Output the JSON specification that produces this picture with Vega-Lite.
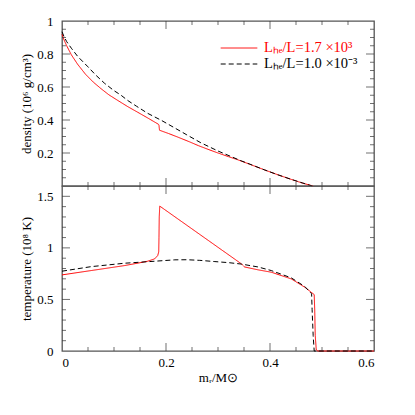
{
  "$schema": "https://vega.github.io/schema/vega-lite/v6.json",
  "autosize": {"type": "pad"},
  "padding": {"left": 19, "top": 14, "right": 5, "bottom": 5},
  "config": {
    "font": "Liberation Serif",
    "view": {"stroke": "#555555", "strokeWidth": 1.3},
    "concat": {"spacing": 0},
    "tick": {"color": "#333333", "thickness": 1},
    "axis": {
      "grid": false,
      "domain": false,
      "labelFont": "Liberation Serif",
      "titleFont": "Liberation Serif",
      "labelFontSize": 13,
      "titleFontSize": 13,
      "titleFontWeight": "normal",
      "labelColor": "#000000",
      "titleColor": "#000000"
    }
  },
  "datasets": {
    "xmajor": [{"t": 0.2}, {"t": 0.4}],
    "xminor": [{"t": 0.05}, {"t": 0.1}, {"t": 0.15}, {"t": 0.25}, {"t": 0.3}, {"t": 0.35}, {"t": 0.45}, {"t": 0.5}, {"t": 0.55}],
    "dmajor": [{"t": 0.2}, {"t": 0.4}, {"t": 0.6}, {"t": 0.8}],
    "dminor": [{"t": 0.05}, {"t": 0.1}, {"t": 0.15}, {"t": 0.25}, {"t": 0.3}, {"t": 0.35}, {"t": 0.45}, {"t": 0.5}, {"t": 0.55}, {"t": 0.65}, {"t": 0.7}, {"t": 0.75}, {"t": 0.85}, {"t": 0.9}, {"t": 0.95}],
    "tmajor": [{"t": 0.5}, {"t": 1}, {"t": 1.5}],
    "tminor": [{"t": 0.1}, {"t": 0.2}, {"t": 0.3}, {"t": 0.4}, {"t": 0.6}, {"t": 0.7}, {"t": 0.8}, {"t": 0.9}, {"t": 1.1}, {"t": 1.2}, {"t": 1.3}, {"t": 1.4}],
    "density": [
      {"series": "Lₕₑ/L=1.7 ×10³", "m": 0.000, "v": 0.920},
      {"series": "Lₕₑ/L=1.7 ×10³", "m": 0.004, "v": 0.885},
      {"series": "Lₕₑ/L=1.7 ×10³", "m": 0.009, "v": 0.850},
      {"series": "Lₕₑ/L=1.7 ×10³", "m": 0.018, "v": 0.795},
      {"series": "Lₕₑ/L=1.7 ×10³", "m": 0.030, "v": 0.738},
      {"series": "Lₕₑ/L=1.7 ×10³", "m": 0.045, "v": 0.678},
      {"series": "Lₕₑ/L=1.7 ×10³", "m": 0.060, "v": 0.630},
      {"series": "Lₕₑ/L=1.7 ×10³", "m": 0.075, "v": 0.590},
      {"series": "Lₕₑ/L=1.7 ×10³", "m": 0.090, "v": 0.553},
      {"series": "Lₕₑ/L=1.7 ×10³", "m": 0.108, "v": 0.517},
      {"series": "Lₕₑ/L=1.7 ×10³", "m": 0.127, "v": 0.480},
      {"series": "Lₕₑ/L=1.7 ×10³", "m": 0.145, "v": 0.448},
      {"series": "Lₕₑ/L=1.7 ×10³", "m": 0.165, "v": 0.412},
      {"series": "Lₕₑ/L=1.7 ×10³", "m": 0.1855, "v": 0.374},
      {"series": "Lₕₑ/L=1.7 ×10³", "m": 0.1865, "v": 0.368},
      {"series": "Lₕₑ/L=1.7 ×10³", "m": 0.1875, "v": 0.338},
      {"series": "Lₕₑ/L=1.7 ×10³", "m": 0.205, "v": 0.318},
      {"series": "Lₕₑ/L=1.7 ×10³", "m": 0.223, "v": 0.296},
      {"series": "Lₕₑ/L=1.7 ×10³", "m": 0.245, "v": 0.268},
      {"series": "Lₕₑ/L=1.7 ×10³", "m": 0.262, "v": 0.245},
      {"series": "Lₕₑ/L=1.7 ×10³", "m": 0.281, "v": 0.222},
      {"series": "Lₕₑ/L=1.7 ×10³", "m": 0.300, "v": 0.200},
      {"series": "Lₕₑ/L=1.7 ×10³", "m": 0.320, "v": 0.178},
      {"series": "Lₕₑ/L=1.7 ×10³", "m": 0.338, "v": 0.159},
      {"series": "Lₕₑ/L=1.7 ×10³", "m": 0.360, "v": 0.133},
      {"series": "Lₕₑ/L=1.7 ×10³", "m": 0.390, "v": 0.097},
      {"series": "Lₕₑ/L=1.7 ×10³", "m": 0.415, "v": 0.068},
      {"series": "Lₕₑ/L=1.7 ×10³", "m": 0.441, "v": 0.040},
      {"series": "Lₕₑ/L=1.7 ×10³", "m": 0.462, "v": 0.018},
      {"series": "Lₕₑ/L=1.7 ×10³", "m": 0.483, "v": 0.000},
      {"series": "Lₕₑ/L=1.0 ×10⁻³", "m": 0.000, "v": 0.935},
      {"series": "Lₕₑ/L=1.0 ×10⁻³", "m": 0.004, "v": 0.905},
      {"series": "Lₕₑ/L=1.0 ×10⁻³", "m": 0.009, "v": 0.875},
      {"series": "Lₕₑ/L=1.0 ×10⁻³", "m": 0.018, "v": 0.835},
      {"series": "Lₕₑ/L=1.0 ×10⁻³", "m": 0.030, "v": 0.786},
      {"series": "Lₕₑ/L=1.0 ×10⁻³", "m": 0.050, "v": 0.722},
      {"series": "Lₕₑ/L=1.0 ×10⁻³", "m": 0.065, "v": 0.672},
      {"series": "Lₕₑ/L=1.0 ×10⁻³", "m": 0.082, "v": 0.622},
      {"series": "Lₕₑ/L=1.0 ×10⁻³", "m": 0.100, "v": 0.578},
      {"series": "Lₕₑ/L=1.0 ×10⁻³", "m": 0.114, "v": 0.549},
      {"series": "Lₕₑ/L=1.0 ×10⁻³", "m": 0.127, "v": 0.517},
      {"series": "Lₕₑ/L=1.0 ×10⁻³", "m": 0.143, "v": 0.484},
      {"series": "Lₕₑ/L=1.0 ×10⁻³", "m": 0.165, "v": 0.440},
      {"series": "Lₕₑ/L=1.0 ×10⁻³", "m": 0.191, "v": 0.398},
      {"series": "Lₕₑ/L=1.0 ×10⁻³", "m": 0.215, "v": 0.355},
      {"series": "Lₕₑ/L=1.0 ×10⁻³", "m": 0.240, "v": 0.310},
      {"series": "Lₕₑ/L=1.0 ×10⁻³", "m": 0.267, "v": 0.262},
      {"series": "Lₕₑ/L=1.0 ×10⁻³", "m": 0.300, "v": 0.212},
      {"series": "Lₕₑ/L=1.0 ×10⁻³", "m": 0.345, "v": 0.152},
      {"series": "Lₕₑ/L=1.0 ×10⁻³", "m": 0.360, "v": 0.134},
      {"series": "Lₕₑ/L=1.0 ×10⁻³", "m": 0.390, "v": 0.097},
      {"series": "Lₕₑ/L=1.0 ×10⁻³", "m": 0.415, "v": 0.068},
      {"series": "Lₕₑ/L=1.0 ×10⁻³", "m": 0.441, "v": 0.040},
      {"series": "Lₕₑ/L=1.0 ×10⁻³", "m": 0.462, "v": 0.019},
      {"series": "Lₕₑ/L=1.0 ×10⁻³", "m": 0.481, "v": 0.000}
    ],
    "temperature": [
      {"series": "Lₕₑ/L=1.7 ×10³", "m": 0.000, "v": 0.738},
      {"series": "Lₕₑ/L=1.7 ×10³", "m": 0.056, "v": 0.780},
      {"series": "Lₕₑ/L=1.7 ×10³", "m": 0.120, "v": 0.828},
      {"series": "Lₕₑ/L=1.7 ×10³", "m": 0.150, "v": 0.856},
      {"series": "Lₕₑ/L=1.7 ×10³", "m": 0.165, "v": 0.871},
      {"series": "Lₕₑ/L=1.7 ×10³", "m": 0.178, "v": 0.893},
      {"series": "Lₕₑ/L=1.7 ×10³", "m": 0.184, "v": 0.925},
      {"series": "Lₕₑ/L=1.7 ×10³", "m": 0.186, "v": 0.960},
      {"series": "Lₕₑ/L=1.7 ×10³", "m": 0.1865, "v": 1.100},
      {"series": "Lₕₑ/L=1.7 ×10³", "m": 0.187, "v": 1.300},
      {"series": "Lₕₑ/L=1.7 ×10³", "m": 0.188, "v": 1.405},
      {"series": "Lₕₑ/L=1.7 ×10³", "m": 0.345, "v": 0.845},
      {"series": "Lₕₑ/L=1.7 ×10³", "m": 0.351, "v": 0.815},
      {"series": "Lₕₑ/L=1.7 ×10³", "m": 0.377, "v": 0.787},
      {"series": "Lₕₑ/L=1.7 ×10³", "m": 0.4025, "v": 0.764},
      {"series": "Lₕₑ/L=1.7 ×10³", "m": 0.441, "v": 0.699},
      {"series": "Lₕₑ/L=1.7 ×10³", "m": 0.467, "v": 0.618},
      {"series": "Lₕₑ/L=1.7 ×10³", "m": 0.485, "v": 0.547},
      {"series": "Lₕₑ/L=1.7 ×10³", "m": 0.486, "v": 0.400},
      {"series": "Lₕₑ/L=1.7 ×10³", "m": 0.487, "v": 0.150},
      {"series": "Lₕₑ/L=1.7 ×10³", "m": 0.489, "v": 0.010},
      {"series": "Lₕₑ/L=1.7 ×10³", "m": 0.492, "v": 0.000},
      {"series": "Lₕₑ/L=1.7 ×10³", "m": 0.600, "v": 0.000},
      {"series": "Lₕₑ/L=1.0 ×10⁻³", "m": 0.000, "v": 0.774},
      {"series": "Lₕₑ/L=1.0 ×10⁻³", "m": 0.056, "v": 0.818},
      {"series": "Lₕₑ/L=1.0 ×10⁻³", "m": 0.120, "v": 0.851},
      {"series": "Lₕₑ/L=1.0 ×10⁻³", "m": 0.165, "v": 0.866},
      {"series": "Lₕₑ/L=1.0 ×10⁻³", "m": 0.217, "v": 0.884},
      {"series": "Lₕₑ/L=1.0 ×10⁻³", "m": 0.240, "v": 0.885},
      {"series": "Lₕₑ/L=1.0 ×10⁻³", "m": 0.265, "v": 0.879},
      {"series": "Lₕₑ/L=1.0 ×10⁻³", "m": 0.294, "v": 0.867},
      {"series": "Lₕₑ/L=1.0 ×10⁻³", "m": 0.320, "v": 0.857},
      {"series": "Lₕₑ/L=1.0 ×10⁻³", "m": 0.345, "v": 0.843},
      {"series": "Lₕₑ/L=1.0 ×10⁻³", "m": 0.377, "v": 0.815},
      {"series": "Lₕₑ/L=1.0 ×10⁻³", "m": 0.4025, "v": 0.780},
      {"series": "Lₕₑ/L=1.0 ×10⁻³", "m": 0.441, "v": 0.709},
      {"series": "Lₕₑ/L=1.0 ×10⁻³", "m": 0.467, "v": 0.625},
      {"series": "Lₕₑ/L=1.0 ×10⁻³", "m": 0.480, "v": 0.555},
      {"series": "Lₕₑ/L=1.0 ×10⁻³", "m": 0.481, "v": 0.400},
      {"series": "Lₕₑ/L=1.0 ×10⁻³", "m": 0.483, "v": 0.150},
      {"series": "Lₕₑ/L=1.0 ×10⁻³", "m": 0.485, "v": 0.000},
      {"series": "Lₕₑ/L=1.0 ×10⁻³", "m": 0.600, "v": 0.000}
    ]
  },
  "bounds": "flush",
  "spacing": 0,
  "vconcat": [
    {
      "width": 312,
      "height": 165,
      "layer": [
        {
          "data": {"name": "density"},
          "mark": {"type": "line", "strokeWidth": 1},
          "encoding": {
            "x": {"field": "m", "type": "quantitative", "scale": {"domain": [0, 0.6], "nice": false}, "axis": null},
            "y": {"field": "v", "type": "quantitative", "scale": {"domain": [0, 1], "nice": false},
              "axis": {"orient": "left", "values": [0.2, 0.4, 0.6, 0.8, 1], "format": "~g", "ticks": false, "labelPadding": 9, "title": "density (10⁶ g/cm³)", "titlePadding": 3.5}},
            "color": {"field": "series", "type": "nominal",
              "scale": {"domain": ["Lₕₑ/L=1.7 ×10³", "Lₕₑ/L=1.0 ×10⁻³"], "range": ["#ff0000", "#000000"]},
              "legend": {"title": null, "orient": "none", "legendX": 158, "legendY": 20, "padding": 0,
                "symbolType": "stroke", "symbolSize": 1340, "symbolStrokeWidth": 1,
                "labelFont": "Liberation Serif", "labelFontSize": 14.5, "labelOffset": 6,
                "clipHeight": 14, "rowPadding": 1,
                "encode": {"labels": {"update": {"fill": {"signal": "datum.index === 0 ? '#ff0000' : '#000000'"}}}}}},
            "strokeDash": {"field": "series", "type": "nominal",
              "scale": {"domain": ["Lₕₑ/L=1.7 ×10³", "Lₕₑ/L=1.0 ×10⁻³"], "range": [[1, 0], [5, 3]]},
              "legend": {"title": null, "orient": "none", "legendX": 158, "legendY": 20, "padding": 0,
                "symbolType": "stroke", "symbolSize": 1340, "symbolStrokeWidth": 1,
                "labelFont": "Liberation Serif", "labelFontSize": 14.5, "labelOffset": 6,
                "clipHeight": 14, "rowPadding": 1,
                "encode": {"labels": {"update": {"fill": {"signal": "datum.index === 0 ? '#ff0000' : '#000000'"}}}}}}
          }
        },
        {"data": {"name": "xmajor"}, "mark": {"type": "tick", "orient": "vertical", "size": 8},
          "encoding": {"x": {"field": "t", "type": "quantitative", "axis": null}, "y": {"datum": 0.0242, "type": "quantitative", "axis": null}}},
        {"data": {"name": "xmajor"}, "mark": {"type": "tick", "orient": "vertical", "size": 8},
          "encoding": {"x": {"field": "t", "type": "quantitative", "axis": null}, "y": {"datum": 0.9758, "type": "quantitative", "axis": null}}},
        {"data": {"name": "xminor"}, "mark": {"type": "tick", "orient": "vertical", "size": 4},
          "encoding": {"x": {"field": "t", "type": "quantitative", "axis": null}, "y": {"datum": 0.0121, "type": "quantitative", "axis": null}}},
        {"data": {"name": "xminor"}, "mark": {"type": "tick", "orient": "vertical", "size": 4},
          "encoding": {"x": {"field": "t", "type": "quantitative", "axis": null}, "y": {"datum": 0.9879, "type": "quantitative", "axis": null}}},
        {"data": {"name": "dmajor"}, "mark": {"type": "tick", "orient": "horizontal", "size": 8},
          "encoding": {"y": {"field": "t", "type": "quantitative", "axis": null}, "x": {"datum": 0.00769, "type": "quantitative", "axis": null}}},
        {"data": {"name": "dmajor"}, "mark": {"type": "tick", "orient": "horizontal", "size": 8},
          "encoding": {"y": {"field": "t", "type": "quantitative", "axis": null}, "x": {"datum": 0.59231, "type": "quantitative", "axis": null}}},
        {"data": {"name": "dminor"}, "mark": {"type": "tick", "orient": "horizontal", "size": 4},
          "encoding": {"y": {"field": "t", "type": "quantitative", "axis": null}, "x": {"datum": 0.003846, "type": "quantitative", "axis": null}}},
        {"data": {"name": "dminor"}, "mark": {"type": "tick", "orient": "horizontal", "size": 4},
          "encoding": {"y": {"field": "t", "type": "quantitative", "axis": null}, "x": {"datum": 0.596154, "type": "quantitative", "axis": null}}}
      ],
      "resolve": {"axis": {"x": "independent", "y": "independent"}}
    },
    {
      "width": 312,
      "height": 165,
      "layer": [
        {
          "data": {"name": "temperature"},
          "mark": {"type": "line", "strokeWidth": 1},
          "encoding": {
            "x": {"field": "m", "type": "quantitative", "scale": {"domain": [0, 0.6], "nice": false},
              "axis": {"orient": "bottom", "values": [0, 0.2, 0.4, 0.6], "format": "~g", "ticks": false, "labelPadding": 5, "title": "mᵣ/M⊙", "titlePadding": 2}},
            "y": {"field": "v", "type": "quantitative", "scale": {"domain": [0, 1.6], "nice": false},
              "axis": {"orient": "left", "values": [0, 0.5, 1, 1.5], "format": "~g", "ticks": false, "labelPadding": 9, "title": "temperature (10⁸ K)", "titlePadding": 3.5}},
            "color": {"field": "series", "type": "nominal"},
            "strokeDash": {"field": "series", "type": "nominal"}
          }
        },
        {"data": {"name": "xmajor"}, "mark": {"type": "tick", "orient": "vertical", "size": 8},
          "encoding": {"x": {"field": "t", "type": "quantitative", "axis": null}, "y": {"datum": 0.0388, "type": "quantitative", "axis": null}}},
        {"data": {"name": "xmajor"}, "mark": {"type": "tick", "orient": "vertical", "size": 8},
          "encoding": {"x": {"field": "t", "type": "quantitative", "axis": null}, "y": {"datum": 1.5612, "type": "quantitative", "axis": null}}},
        {"data": {"name": "xminor"}, "mark": {"type": "tick", "orient": "vertical", "size": 4},
          "encoding": {"x": {"field": "t", "type": "quantitative", "axis": null}, "y": {"datum": 0.0194, "type": "quantitative", "axis": null}}},
        {"data": {"name": "xminor"}, "mark": {"type": "tick", "orient": "vertical", "size": 4},
          "encoding": {"x": {"field": "t", "type": "quantitative", "axis": null}, "y": {"datum": 1.5806, "type": "quantitative", "axis": null}}},
        {"data": {"name": "tmajor"}, "mark": {"type": "tick", "orient": "horizontal", "size": 8},
          "encoding": {"y": {"field": "t", "type": "quantitative", "axis": null}, "x": {"datum": 0.00769, "type": "quantitative", "axis": null}}},
        {"data": {"name": "tmajor"}, "mark": {"type": "tick", "orient": "horizontal", "size": 8},
          "encoding": {"y": {"field": "t", "type": "quantitative", "axis": null}, "x": {"datum": 0.59231, "type": "quantitative", "axis": null}}},
        {"data": {"name": "tminor"}, "mark": {"type": "tick", "orient": "horizontal", "size": 4},
          "encoding": {"y": {"field": "t", "type": "quantitative", "axis": null}, "x": {"datum": 0.003846, "type": "quantitative", "axis": null}}},
        {"data": {"name": "tminor"}, "mark": {"type": "tick", "orient": "horizontal", "size": 4},
          "encoding": {"y": {"field": "t", "type": "quantitative", "axis": null}, "x": {"datum": 0.596154, "type": "quantitative", "axis": null}}}
      ],
      "resolve": {"axis": {"x": "independent", "y": "independent"}}
    }
  ]
}
